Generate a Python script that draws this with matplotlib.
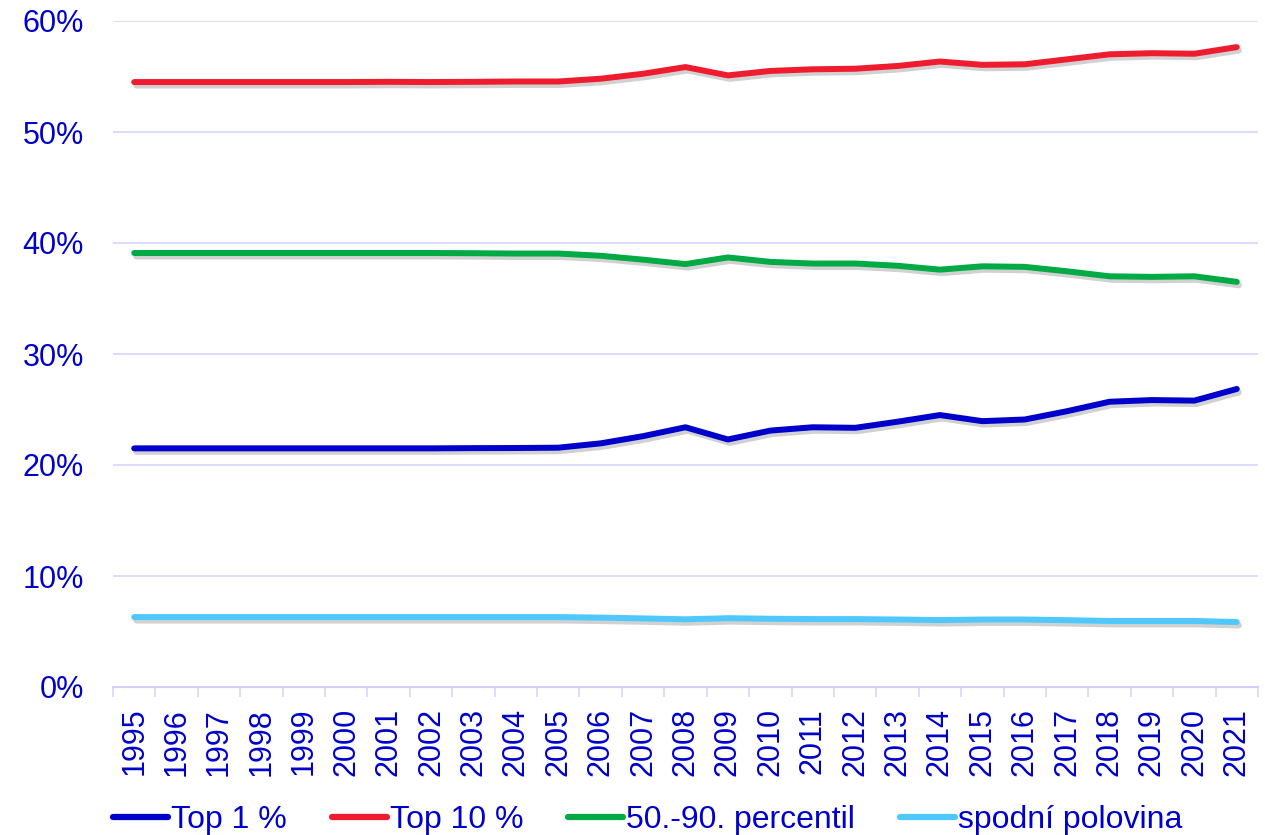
import matplotlib
matplotlib.use("Agg")
import matplotlib.pyplot as plt
import matplotlib.patheffects as pe
from matplotlib.ticker import FixedLocator, PercentFormatter

plt.rcParams['font.family'] = ['Liberation Sans', 'DejaVu Sans']

# data (shares in %)
years = [str(y) for y in range(1995, 2022)]
top1 = [21.5, 21.5, 21.5, 21.5, 21.5, 21.5, 21.5, 21.5, 21.52, 21.53, 21.56,
        21.95, 22.6, 23.4, 22.3, 23.1, 23.4, 23.35, 23.9, 24.5, 23.95,
        24.1, 24.85, 25.7, 25.85, 25.8, 26.85]
top10 = [54.5, 54.5, 54.5, 54.5, 54.5, 54.5, 54.52, 54.5, 54.52, 54.55, 54.55,
         54.8, 55.25, 55.85, 55.1, 55.5, 55.65, 55.7, 55.95, 56.35, 56.05,
         56.1, 56.55, 57.0, 57.1, 57.05, 57.65]
mid = [39.1, 39.1, 39.1, 39.1, 39.1, 39.1, 39.1, 39.1, 39.08, 39.05, 39.05,
       38.85, 38.5, 38.1, 38.7, 38.3, 38.15, 38.15, 37.95, 37.6, 37.9,
       37.85, 37.45, 37.0, 36.95, 37.0, 36.5]
bottom = [6.3, 6.3, 6.3, 6.3, 6.3, 6.3, 6.3, 6.3, 6.3, 6.3, 6.3,
          6.25, 6.18, 6.1, 6.2, 6.15, 6.12, 6.12, 6.08, 6.03, 6.08,
          6.08, 6.02, 5.95, 5.95, 5.95, 5.85]
labels = ['Top 1 %', 'Top 10 %', '50.-90. percentil', 'spodní polovina']
colors = ['#0000CC', '#EE1C2E', '#00AA44', '#4FC8FF']

txt = '#0000CC'
grid = '#D9D9FF'

fig = plt.figure(figsize=(12.65, 8.35), dpi=100)
ax = fig.add_axes([113 / 1265, 1 - 687 / 835, 1145 / 1265, 666 / 835])

x = list(range(len(years)))
# soft drop shadow under each line
shadow = [pe.SimpleLineShadow(offset=(1.5, -2.5), alpha=0.18, rho=0.3), pe.Normal()]
for series, lab, col in zip([top1, top10, mid, bottom], labels, colors):
    ax.plot(x, series, color=col, lw=4.3, label=lab, solid_capstyle='round',
            solid_joinstyle='round', path_effects=shadow, zorder=3)

ax.set_xlim(-0.5, len(years) - 0.5)
ax.set_ylim(0, 60)
ax.yaxis.set_major_locator(FixedLocator([0, 10, 20, 30, 40, 50, 60]))
ax.yaxis.set_major_formatter(PercentFormatter(decimals=0))
ax.grid(axis='y', color=grid, lw=1.3, zorder=0)

ax.set_xticks(x)
ax.set_xticklabels(years, rotation=90)
ax.set_xticks([i - 0.5 for i in range(len(years) + 1)], minor=True)
ax.tick_params(axis='x', which='major', length=0, pad=15, labelsize=22, labelcolor=txt)
ax.tick_params(axis='x', which='minor', length=7.2, width=1.3, color=grid)
ax.tick_params(axis='y', length=0, pad=21, labelsize=22, labelcolor=txt)

for s in ['top', 'right', 'left']:
    ax.spines[s].set_visible(False)
ax.spines['bottom'].set_color('#D0D0FF')
ax.spines['bottom'].set_linewidth(1.5)

leg = fig.legend(loc='center left', bbox_to_anchor=(113 / 1265, 1 - 820 / 835),
                 ncol=4, frameon=False, fontsize=23, handlelength=1.72,
                 handletextpad=0.1, columnspacing=1.4, borderpad=0,
                 borderaxespad=0)
for t in leg.get_texts():
    t.set_color(txt)
for h in leg.get_lines():
    h.set_linewidth(4.5)
    h.set_path_effects([])

fig.savefig('out.png', dpi=100)
